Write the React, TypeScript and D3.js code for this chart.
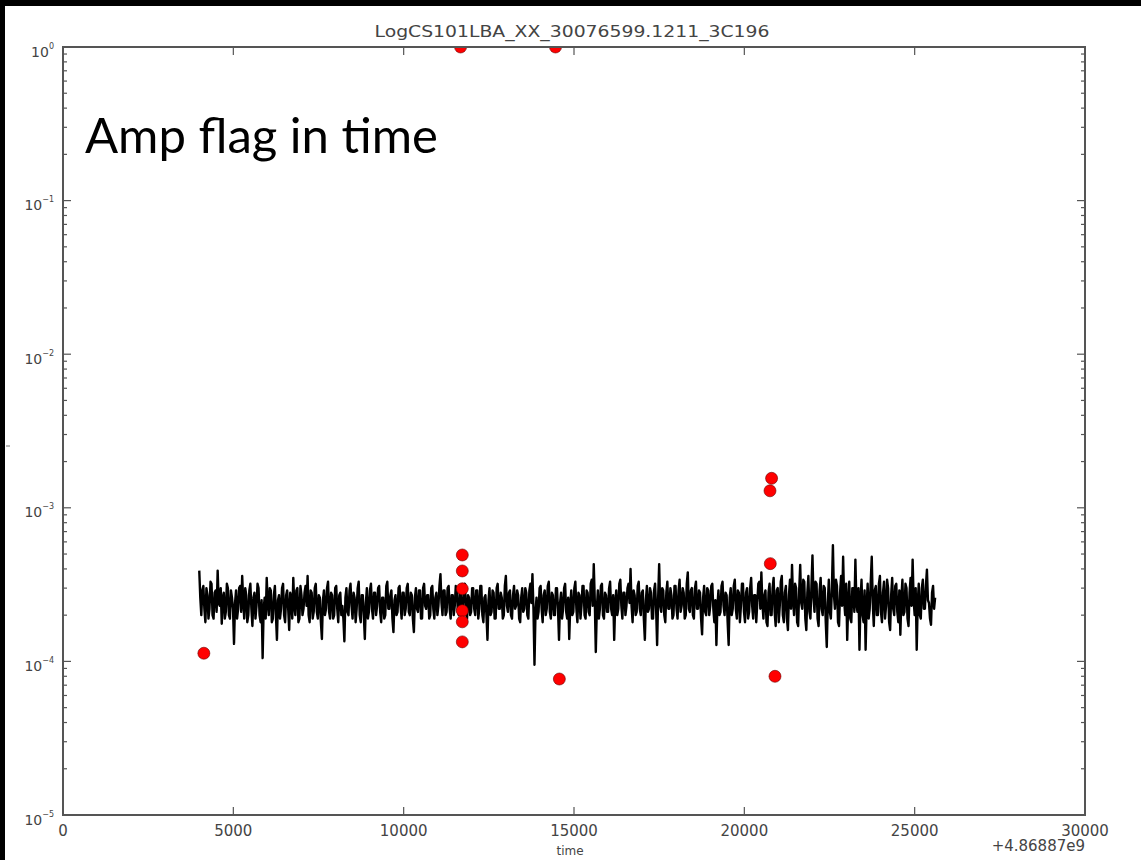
import * as d3 from "d3";

// amplitude samples, in units of 1e-4, one every 30 s from t = 4000
const T_START = 4000;
const T_STEP = 30;
const ampE4 = [
  3.9, 2.6, 2.0, 2.9, 3.1, 2.2, 1.8, 3.0, 2.7, 1.9, 2.2, 3.3, 3.2, 2.0, 1.9, 2.8, 2.9, 2.1, 3.9, 2.4,
  2.3, 3.0, 1.76, 2.6, 2.8, 1.9, 2.1, 3.2, 3.0, 2.0, 1.9, 2.9, 2.6, 2.2, 1.3, 2.4, 2.9, 1.9, 2.2, 3.0,
  3.1, 2.1, 3.6, 2.5, 1.9, 3.0, 2.7, 1.8, 2.0, 2.9, 3.2, 2.2, 1.7, 2.6, 2.8, 1.9, 2.3, 3.2, 3.0, 2.0,
  1.8, 2.5, 1.05, 2.2, 2.6, 1.9, 3.5, 2.4, 2.0, 3.0, 2.9, 1.8, 1.9, 2.7, 3.1, 2.0, 1.38, 2.5, 2.7, 1.9,
  2.2, 3.0, 3.2, 2.0, 1.8, 2.7, 2.9, 2.2, 1.6, 2.8, 2.6, 1.9, 3.5, 2.3, 2.0, 2.9, 3.0, 1.8, 1.9, 3.1,
  2.7, 2.0, 2.2, 2.8, 3.1, 2.3, 3.6, 2.0, 1.8, 2.9, 2.8, 1.9, 2.1, 3.0, 3.2, 2.1, 1.9, 2.7, 2.6, 1.8,
  1.4, 2.5, 2.9, 2.0, 2.2, 3.0, 3.3, 2.1, 1.9, 2.8, 2.7, 1.9, 2.0, 3.0, 3.1, 2.2, 1.8, 2.7, 2.8, 2.0,
  2.3, 1.9, 1.35, 2.6, 3.0, 2.1, 2.0, 2.9, 3.2, 2.3, 1.9, 2.8, 2.6, 1.8, 2.2, 3.0, 3.3, 2.0, 1.8, 2.7,
  2.7, 2.0, 1.4, 2.4, 3.0, 1.9, 2.1, 2.9, 3.2, 2.2, 1.9, 2.8, 2.8, 2.0, 2.3, 3.0, 3.1, 2.1, 1.8, 2.6,
  2.6, 1.9, 2.0, 3.1, 3.3, 2.2, 2.2, 2.7, 2.9, 1.9, 1.55, 2.5, 2.7, 2.0, 2.1, 3.0, 3.1, 2.3, 1.9, 2.8,
  2.8, 2.0, 2.2, 3.0, 3.2, 2.1, 2.0, 2.8, 2.7, 1.9, 1.55, 2.6, 3.0, 2.2, 2.1, 2.9, 2.9, 1.9, 1.9, 3.0,
  3.2, 2.3, 2.2, 2.7, 2.7, 1.9, 2.0, 3.0, 3.1, 2.2, 1.9, 2.6, 2.8, 2.0, 2.3, 3.1, 3.7, 2.4, 2.0, 2.9,
  2.9, 2.0, 2.1, 3.0, 3.1, 2.2, 1.9, 2.7, 2.7, 2.0, 2.3, 3.1, 3.0, 2.1, 2.0, 2.8, 2.8, 1.9, 2.2, 3.0,
  3.2, 2.1, 1.9, 2.7, 2.6, 2.0, 2.1, 3.0, 3.0, 2.2, 2.0, 2.9, 2.9, 1.9, 2.2, 3.1, 3.1, 2.0, 1.8, 2.6,
  2.7, 2.0, 1.38, 2.5, 3.0, 2.0, 2.1, 2.9, 2.8, 1.9, 1.9, 3.0, 3.2, 2.2, 2.2, 2.8, 2.6, 1.9, 2.0, 3.1,
  3.6, 2.3, 2.1, 2.8, 2.9, 2.0, 1.9, 2.7, 3.1, 2.2, 2.3, 2.9, 2.7, 1.9, 1.8, 2.6, 3.0, 2.1, 2.2, 3.0,
  2.8, 2.0, 1.9, 2.9, 3.2, 2.4, 3.7, 2.2, 0.95, 2.1, 2.6, 1.9, 2.1, 3.0, 3.1, 2.2, 1.8, 2.7, 2.9, 2.0,
  2.2, 3.1, 3.3, 2.1, 1.9, 2.8, 2.7, 2.0, 2.0, 3.0, 3.0, 2.2, 1.38, 2.4, 2.8, 1.9, 2.2, 3.0, 3.2, 2.1,
  1.9, 2.6, 1.4, 2.3, 2.9, 2.0, 2.1, 3.0, 3.3, 2.2, 1.8, 2.8, 2.7, 1.9, 2.3, 3.1, 3.1, 2.0, 1.9, 2.9,
  2.8, 2.1, 2.0, 3.2, 3.4, 2.3, 4.3, 2.5, 1.15, 2.2, 2.9, 1.9, 2.2, 3.1, 3.2, 2.0, 1.9, 2.8, 2.7, 2.1,
  2.1, 3.0, 3.3, 2.2, 2.0, 2.7, 1.38, 2.4, 2.9, 2.0, 2.2, 3.2, 3.4, 2.3, 1.9, 2.8, 2.8, 2.0, 2.3, 3.0,
  3.2, 2.4, 4.0, 2.3, 1.8, 2.9, 2.7, 2.0, 2.1, 3.1, 3.3, 2.2, 2.0, 2.8, 2.9, 1.9, 1.38, 2.5, 3.1, 2.1,
  2.2, 3.0, 2.8, 1.9, 1.9, 2.9, 3.2, 2.2, 1.28, 2.6, 4.3, 2.3, 2.1, 3.0, 2.9, 2.0, 1.8, 2.8, 3.3, 2.2,
  2.2, 3.0, 2.7, 1.9, 2.0, 3.1, 3.1, 2.2, 1.9, 2.9, 3.4, 2.1, 2.3, 3.0, 2.8, 1.9, 2.0, 3.2, 3.8, 2.2,
  2.1, 2.9, 3.0, 2.0, 1.9, 3.0, 3.3, 2.2, 2.2, 2.9, 2.8, 1.9, 1.5, 2.6, 3.1, 2.1, 2.0, 3.0, 2.9, 2.0,
  2.3, 3.1, 3.2, 2.2, 1.8, 2.5, 1.28, 2.3, 2.9, 2.0, 2.1, 3.1, 3.3, 2.3, 2.0, 2.8, 2.7, 1.8, 1.28, 2.6,
  3.0, 2.0, 2.2, 3.1, 3.4, 2.2, 1.9, 2.9, 2.8, 1.8, 2.3, 3.2, 3.2, 2.1, 1.8, 2.8, 3.0, 1.9, 2.1, 3.0,
  3.5, 2.3, 1.9, 2.7, 2.7, 1.8, 2.4, 3.2, 3.3, 2.2, 3.8, 2.4, 1.9, 2.7, 2.9, 1.8, 1.7, 2.8, 3.2, 2.0,
  2.0, 3.0, 3.5, 2.1, 1.7, 2.9, 3.0, 1.8, 2.3, 3.3, 3.6, 2.0, 1.8, 2.8, 3.1, 1.9, 1.6, 2.7, 3.4, 2.2,
  4.25, 2.5, 2.0, 3.2, 3.0, 1.8, 1.7, 2.9, 4.25, 2.4, 2.2, 3.4, 3.3, 1.9, 1.6, 2.8, 3.6, 2.1, 1.9, 3.1,
  4.9, 2.6, 2.1, 3.3, 3.2, 1.9, 1.7, 2.9, 3.5, 2.2, 2.0, 3.1, 3.0, 1.8, 1.24, 2.4, 3.4, 2.1, 1.9, 3.0,
  5.7, 2.7, 2.2, 3.4, 3.1, 1.8, 1.7, 2.8, 3.6, 2.3, 4.8, 2.5, 2.0, 3.2, 1.38, 2.4, 3.3, 1.9, 1.8, 3.0,
  3.0, 2.1, 4.6, 2.4, 2.1, 3.0, 1.19, 2.5, 3.4, 2.0, 1.8, 2.9, 1.19, 2.3, 3.2, 1.9, 2.2, 3.3, 4.8, 2.4,
  1.7, 2.9, 3.1, 2.0, 2.0, 3.2, 3.6, 2.1, 1.8, 2.8, 3.3, 1.9, 2.3, 3.4, 3.0, 1.8, 1.6, 2.7, 3.5, 2.2,
  2.0, 3.1, 3.2, 2.1, 1.8, 2.9, 1.49, 2.6, 3.4, 2.0, 2.1, 3.2, 3.0, 1.9, 1.7, 2.8, 3.5, 2.3, 4.6, 2.5,
  2.0, 3.0, 1.19, 2.4, 3.2, 2.0, 1.9, 3.0, 3.4, 2.2, 2.2, 3.1, 3.96, 2.5, 2.4, 1.9, 1.73, 2.8, 3.1, 2.2,
  2.6,
];

// flagged samples (red)
const flagTimes = [4135, 11670, 14457, 11721, 11721, 11721, 11721, 11721, 11721, 20800, 20753, 20762, 20900, 14570];
const flagAmps = [1.13e-4, 1, 1, 4.93e-4, 3.88e-4, 2.97e-4, 2.14e-4, 1.81e-4, 1.34e-4, 1.556e-3, 1.29e-3, 4.33e-4, 8.0e-5, 7.68e-5];

const xTicks = [0, 5000, 10000, 15000, 20000, 25000, 30000];
const yExps = [0, -1, -2, -3, -4, -5];

const title = "LogCS101LBA_XX_30076599.1211_3C196";
const overlay = "Amp flag in time";
const xLabel = "time";
const xOffset = "+4.86887e9";

const W = 1141;
const H = 860;
const left = 63, right = 1085, top = 47, bottom = 815;
const axisColor = "#555";
const textColor = "#444";

export default function App() {
  const x = d3.scaleLinear().domain([0, 30000]).range([left, right]);
  const y = d3.scaleLog().domain([1e-5, 1]).range([bottom, top]);

  const line = d3
    .line<number>()
    .x((_, i) => x(T_START + i * T_STEP))
    .y((d) => y(d * 1e-4));

  const minor: number[] = [];
  yExps.slice(1).forEach((e) => {
    for (let k = 2; k < 10; k++) minor.push(k * Math.pow(10, e));
  });

  return (
    <svg width={W} height={H} style={{ position: "absolute", left: 0, top: 0 }} fontFamily="DejaVu Sans">
      <rect width={W} height={H} fill="#000" />
      <rect x={5} y={6} width={W - 5} height={H - 6} fill="#fff" />
      <defs>
        <clipPath id="plot">
          <rect x={left} y={top} width={right - left} height={bottom - top} />
        </clipPath>
      </defs>

      <text x={572} y={37} textAnchor="middle" fontSize={15} fill={textColor} textLength={395} lengthAdjust="spacingAndGlyphs">
        {title}
      </text>

      <g clipPath="url(#plot)">
        <path d={line(ampE4) ?? ""} fill="none" stroke="#000" strokeWidth={2.4} strokeLinejoin="round" />
        {flagTimes.map((t, i) => (
          <circle key={i} cx={x(t)} cy={y(flagAmps[i])} r={6} fill="#ff0000" stroke="#600" strokeWidth={0.6} />
        ))}
      </g>

      {/* ticks */}
      <g stroke={axisColor} strokeWidth={1.2}>
        {xTicks.map((t) => (
          <g key={t}>
            <line x1={x(t)} x2={x(t)} y1={bottom} y2={bottom - 8} />
            <line x1={x(t)} x2={x(t)} y1={top} y2={top + 8} />
          </g>
        ))}
        {yExps.map((e) => (
          <g key={e}>
            <line x1={left} x2={left + 8} y1={y(Math.pow(10, e))} y2={y(Math.pow(10, e))} />
            <line x1={right} x2={right - 8} y1={y(Math.pow(10, e))} y2={y(Math.pow(10, e))} />
          </g>
        ))}
        {minor.map((v, i) => (
          <g key={i}>
            <line x1={left} x2={left + 4} y1={y(v)} y2={y(v)} />
            <line x1={right} x2={right - 4} y1={y(v)} y2={y(v)} />
          </g>
        ))}
      </g>

      <rect x={left} y={top} width={right - left} height={bottom - top} fill="none" stroke={axisColor} strokeWidth={2} />

      {xTicks.map((t) => (
        <text key={t} x={x(t)} y={836} textAnchor="middle" fontSize={15} fill={textColor}>
          {t}
        </text>
      ))}
      {yExps.map((e) => (
        <text key={e} x={54} y={y(Math.pow(10, e)) + 9.5} textAnchor="end" fontSize={14} fill={textColor}>
          10
          <tspan dy={-8} fontSize={8}>
            {e === 0 ? "0" : "\u2212" + Math.abs(e)}
          </tspan>
        </text>
      ))}

      <text x={570} y={855} textAnchor="middle" fontSize={12} fill={textColor}>
        {xLabel}
      </text>
      <text x={1085} y={851} textAnchor="end" fontSize={15} fill={textColor}>
        {xOffset}
      </text>
      <line x1={6} x2={10} y1={446} y2={446} stroke="#777" strokeWidth={1} />

      <text x={85} y={153} fontFamily="Lato" fontSize={48} fill="#000" textLength={353} lengthAdjust="spacingAndGlyphs">
        {overlay}
      </text>
    </svg>
  );
}
